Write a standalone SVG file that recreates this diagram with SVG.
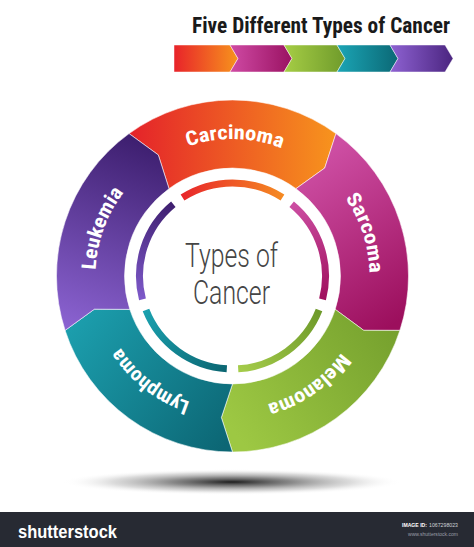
<svg xmlns="http://www.w3.org/2000/svg" xmlns:xlink="http://www.w3.org/1999/xlink" width="474" height="547" viewBox="0 0 474 547">
<defs>
<style>
.seg{stroke:#ffffff;stroke-opacity:0.55;stroke-width:1}
.bar{stroke:#ffffff;stroke-opacity:0.6;stroke-width:0.8}
.arc{fill:none;stroke-width:7}
.lbl{font-family:"Roboto Condensed","Liberation Sans Narrow",Roboto,"Liberation Sans",sans-serif;font-weight:bold;font-size:20px;fill:#ffffff}
.title{font-family:"Roboto Condensed","Liberation Sans Narrow",Roboto,"Liberation Sans",sans-serif;font-weight:bold;font-size:22.5px;fill:#1a1a1a}
.center{font-family:Roboto,"Liberation Sans",sans-serif;font-weight:300;font-size:34px;fill:#454545}
.foot{font-family:"Liberation Sans",sans-serif}
</style>
<linearGradient id="gCar" gradientUnits="userSpaceOnUse" x1="129" y1="0" x2="336" y2="0"><stop offset="0" stop-color="#e4222a"/><stop offset="1" stop-color="#f7941d"/></linearGradient>
<linearGradient id="gSar" gradientUnits="userSpaceOnUse" x1="300" y1="170" x2="400" y2="320"><stop offset="0" stop-color="#cd4ea3"/><stop offset="1" stop-color="#9c0f5d"/></linearGradient>
<linearGradient id="gMel" gradientUnits="userSpaceOnUse" x1="395" y1="330" x2="240" y2="440"><stop offset="0" stop-color="#76a12e"/><stop offset="1" stop-color="#9dc843"/></linearGradient>
<linearGradient id="gLym" gradientUnits="userSpaceOnUse" x1="230" y1="440" x2="70" y2="320"><stop offset="0" stop-color="#0c6674"/><stop offset="1" stop-color="#1c9fae"/></linearGradient>
<linearGradient id="gLeu" gradientUnits="userSpaceOnUse" x1="80" y1="330" x2="150" y2="145"><stop offset="0" stop-color="#8a62d0"/><stop offset="1" stop-color="#3e1f70"/></linearGradient>
<linearGradient id="aCar" gradientUnits="userSpaceOnUse" x1="182" y1="0" x2="283" y2="0"><stop offset="0" stop-color="#e8262b"/><stop offset="1" stop-color="#f58a22"/></linearGradient>
<linearGradient id="aSar" gradientUnits="userSpaceOnUse" x1="292" y1="204" x2="322" y2="300"><stop offset="0" stop-color="#cc4ea2"/><stop offset="1" stop-color="#a0105e"/></linearGradient>
<linearGradient id="aMel" gradientUnits="userSpaceOnUse" x1="319" y1="310" x2="238" y2="369"><stop offset="0" stop-color="#6e9a2a"/><stop offset="1" stop-color="#a5cc4a"/></linearGradient>
<linearGradient id="aLym" gradientUnits="userSpaceOnUse" x1="146" y1="310" x2="227" y2="369"><stop offset="0" stop-color="#1aa0ae"/><stop offset="1" stop-color="#0b6672"/></linearGradient>
<linearGradient id="aLeu" gradientUnits="userSpaceOnUse" x1="142" y1="299" x2="173" y2="204"><stop offset="0" stop-color="#7d59c9"/><stop offset="1" stop-color="#3f1f70"/></linearGradient>
<linearGradient id="b1" gradientUnits="userSpaceOnUse" x1="174" y1="0" x2="238" y2="0"><stop offset="0" stop-color="#e8232a"/><stop offset="1" stop-color="#f7941d"/></linearGradient>
<linearGradient id="b2" gradientUnits="userSpaceOnUse" x1="230" y1="0" x2="292" y2="0"><stop offset="0" stop-color="#cf4aa4"/><stop offset="1" stop-color="#9a1262"/></linearGradient>
<linearGradient id="b3" gradientUnits="userSpaceOnUse" x1="284" y1="0" x2="345" y2="0"><stop offset="0" stop-color="#a6cd45"/><stop offset="1" stop-color="#6f9b2b"/></linearGradient>
<linearGradient id="b4" gradientUnits="userSpaceOnUse" x1="337" y1="0" x2="398" y2="0"><stop offset="0" stop-color="#1ba5b5"/><stop offset="1" stop-color="#0b6875"/></linearGradient>
<linearGradient id="b5" gradientUnits="userSpaceOnUse" x1="390" y1="0" x2="453" y2="0"><stop offset="0" stop-color="#8e62d2"/><stop offset="1" stop-color="#4b2580"/></linearGradient>
<radialGradient id="shadowG" cx="0.5" cy="0.5" r="0.5"><stop offset="0" stop-color="#111111" stop-opacity="0.95"/><stop offset="0.35" stop-color="#555555" stop-opacity="0.7"/><stop offset="0.7" stop-color="#999999" stop-opacity="0.35"/><stop offset="1" stop-color="#ffffff" stop-opacity="0"/></radialGradient>
<path id="pCar" d="M 98.02 249.86 A 137 137 0 0 1 367.81 254.57"/>
<path id="pSar" d="M 213.43 140.33 A 137 137 0 0 1 296.82 396.96"/>
<path id="pMel" d="M 353.04 219.79 A 133 133 0 0 1 138.46 370.05"/>
<path id="pLym" d="M 321.49 374.84 A 133 133 0 0 1 115.07 213.56"/>
<path id="pLeu" d="M 164.0 394.65 A 137 137 0 0 1 256.29 141.08"/>
</defs>
<rect x="0" y="0" width="474" height="547" fill="#ffffff"/>

<g id="title">
<text class="title" x="192" y="33.3" textLength="258" lengthAdjust="spacingAndGlyphs">Five Different Types of Cancer</text>
</g>

<g id="arrow-bar">
<polygon class="bar" fill="url(#b1)" points="174,45 230,45 238,58.5 230,72 174,72"/>
<polygon class="bar" fill="url(#b2)" points="230,45 284,45 292,58.5 284,72 230,72 238,58.5"/>
<polygon class="bar" fill="url(#b3)" points="284,45 337,45 345,58.5 337,72 284,72 292,58.5"/>
<polygon class="bar" fill="url(#b4)" points="337,45 390,45 398,58.5 390,72 337,72 345,58.5"/>
<polygon class="bar" fill="url(#b5)" points="390,45 445,45 453,58.5 445,72 390,72 398,58.5"/>
</g>

<g id="shadow">
<ellipse cx="232" cy="482" rx="170" ry="13" fill="url(#shadowG)"/>
</g>

<g id="connectors"></g>

<g id="carcinoma">
<path class="seg" fill="url(#gCar)" d="M 129.05 133.61 A 176 176 0 0 1 335.95 133.61 L 324.72 168.02 L 295.98 188.63 A 108 108 0 0 0 169.02 188.63 L 158.30 154.92 Z"/>
<text class="lbl"><textPath xlink:href="#pCar" href="#pCar" startOffset="50%" text-anchor="middle" textLength="96" lengthAdjust="spacingAndGlyphs">Carcinoma</textPath></text>
</g>
<g id="sarcoma">
<path class="seg" fill="url(#gSar)" d="M 335.95 133.61 A 176 176 0 0 1 399.89 330.39 L 363.69 330.34 L 335.21 309.37 A 108 108 0 0 0 295.98 188.63 L 324.72 168.02 Z"/>
<text class="lbl"><textPath xlink:href="#pSar" href="#pSar" startOffset="50%" text-anchor="middle" textLength="80" lengthAdjust="spacingAndGlyphs">Sarcoma</textPath></text>
</g>
<g id="melanoma">
<path class="seg" fill="url(#gMel)" d="M 399.89 330.39 A 176 176 0 0 1 232.5 452 L 221.36 417.56 L 232.5 384 A 108 108 0 0 0 335.21 309.37 L 363.69 330.34 Z"/>
<text class="lbl"><textPath xlink:href="#pMel" href="#pMel" startOffset="50%" text-anchor="middle" textLength="92" lengthAdjust="spacingAndGlyphs">Melanoma</textPath></text>
</g>
<g id="lymphoma">
<path class="seg" fill="url(#gLym)" d="M 232.5 452 A 176 176 0 0 1 65.11 330.39 L 94.42 309.15 L 129.79 309.37 A 108 108 0 0 0 232.5 384 L 221.36 417.56 Z"/>
<text class="lbl"><textPath xlink:href="#pLym" href="#pLym" startOffset="50%" text-anchor="middle" textLength="90" lengthAdjust="spacingAndGlyphs">Lymphoma</textPath></text>
</g>
<g id="leukemia">
<path class="seg" fill="url(#gLeu)" d="M 65.11 330.39 A 176 176 0 0 1 129.05 133.61 L 158.30 154.92 L 169.02 188.63 A 108 108 0 0 0 129.79 309.37 L 94.42 309.15 Z"/>
<text class="lbl"><textPath xlink:href="#pLeu" href="#pLeu" startOffset="50%" text-anchor="middle" textLength="84" lengthAdjust="spacingAndGlyphs">Leukemia</textPath></text>
</g>

<g id="inner-arcs">
<path class="arc" stroke="url(#aCar)" d="M 182.53 197.57 A 93 93 0 0 1 282.47 197.57"/>
<path class="arc" stroke="url(#aSar)" d="M 291.66 204.24 A 93 93 0 0 1 322.54 299.29"/>
<path class="arc" stroke="url(#aMel)" d="M 319.03 310.08 A 93 93 0 0 1 238.18 368.83"/>
<path class="arc" stroke="url(#aLym)" d="M 226.82 368.83 A 93 93 0 0 1 145.97 310.08"/>
<path class="arc" stroke="url(#aLeu)" d="M 142.46 299.29 A 93 93 0 0 1 173.34 204.24"/>
</g>

<g id="center-label">
<text class="center" x="185" y="267" textLength="93" lengthAdjust="spacingAndGlyphs">Types of</text>
<text class="center" x="193" y="304" textLength="77" lengthAdjust="spacingAndGlyphs">Cancer</text>
</g>

<g id="footer">
<rect x="0" y="512" width="474" height="35" fill="#272a33"/>
<text class="foot" x="18" y="537.5" font-family="'Open Sans','Liberation Sans',sans-serif" font-weight="bold" font-size="18" fill="#ffffff" textLength="99" lengthAdjust="spacingAndGlyphs">shutterstock</text>
<text class="foot" x="402" y="526.5" font-size="6" font-weight="bold" fill="#ffffff" textLength="25" lengthAdjust="spacingAndGlyphs">IMAGE ID:</text>
<text class="foot" x="429" y="526.5" font-size="6" fill="#cfd2d8" textLength="29" lengthAdjust="spacingAndGlyphs">1067298023</text>
<text class="foot" x="408" y="536" font-size="5.5" fill="#9a9ea8" textLength="50" lengthAdjust="spacingAndGlyphs">www.shutterstock.com</text>
</g>
</svg>
